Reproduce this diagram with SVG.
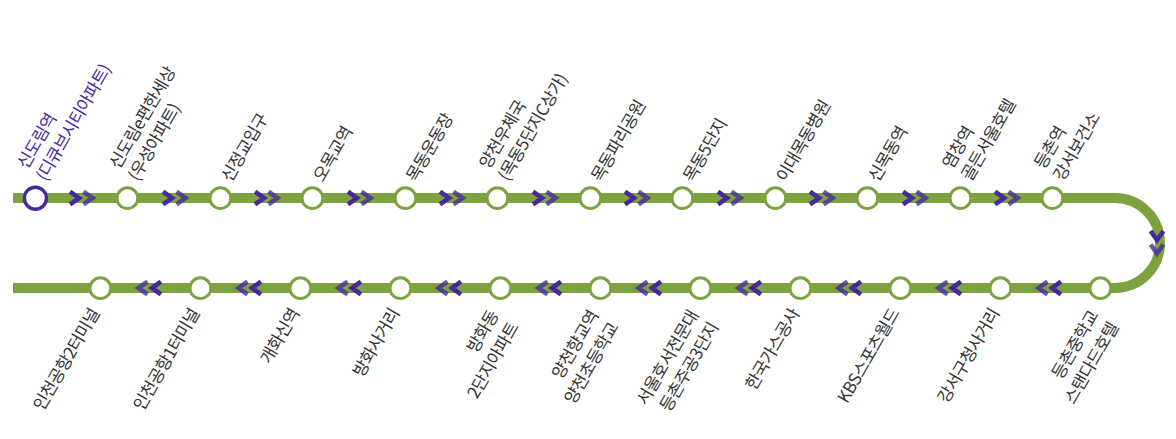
<svg xmlns="http://www.w3.org/2000/svg" width="1176" height="439" viewBox="0 0 1176 439">
<style>
text{font-family:"Noto Sans CJK KR","Noto Sans",sans-serif;font-size:17px;fill:#333;letter-spacing:-0.6px}
.cur{fill:#47299b}
.e{text-anchor:end}
circle{transform:translate(.4px,.2px)}
.st{fill:#fff;stroke:#7ca340;stroke-width:3}
.cs{fill:#fff;stroke:#47299b;stroke-width:3.4}
.c1,.c2{fill:none;stroke:#47299b;stroke-width:4.6}
.c2{opacity:.8}
</style>
<defs>
<g id="ch"><path class="c1" d="M-12,-6.4L-3,0L-12,6.4"/><path class="c2" d="M1.5,-6.4L10.5,0L1.5,6.4"/></g>
</defs>
<g id="connectors">
<path d="M13,198H1115A45,45 0 0 1 1115,288H13" fill="none" stroke="#7ca340" stroke-width="10"/>
<use href="#ch" x="82" y="198"/><use href="#ch" x="175" y="198"/><use href="#ch" x="267" y="198"/><use href="#ch" x="360" y="198"/><use href="#ch" x="452" y="198"/><use href="#ch" x="545" y="198"/><use href="#ch" x="637" y="198"/><use href="#ch" x="730" y="198"/><use href="#ch" x="822" y="198"/><use href="#ch" x="915" y="198"/><use href="#ch" x="1007" y="198"/>
<use href="#ch" transform="translate(1157,243) rotate(90)"/>
<use href="#ch" transform="translate(1049,288) rotate(180)"/><use href="#ch" transform="translate(949,288) rotate(180)"/><use href="#ch" transform="translate(849,288) rotate(180)"/><use href="#ch" transform="translate(749,288) rotate(180)"/><use href="#ch" transform="translate(649,288) rotate(180)"/><use href="#ch" transform="translate(549,288) rotate(180)"/><use href="#ch" transform="translate(449,288) rotate(180)"/><use href="#ch" transform="translate(349,288) rotate(180)"/><use href="#ch" transform="translate(249,288) rotate(180)"/><use href="#ch" transform="translate(149,288) rotate(180)"/>
</g>
<g id="s01"><circle class="cs" cx="35" cy="198" r="11"/><text class="cur" transform="translate(27,170) rotate(-60)">신도림역</text><text class="cur" transform="translate(46,182) rotate(-60)">(디큐브시티아파트)</text></g>
<g id="s02"><circle class="st" cx="127" cy="198" r="10.4"/><text transform="translate(119,170) rotate(-60)">신도림e편한세상</text><text transform="translate(138,182) rotate(-60)">(우성아파트)</text></g>
<g id="s03"><circle class="st" cx="220" cy="198" r="10.4"/><text transform="translate(231,183) rotate(-60)">신정교입구</text></g>
<g id="s04"><circle class="st" cx="312" cy="198" r="10.4"/><text transform="translate(323,183) rotate(-60)">오목교역</text></g>
<g id="s05"><circle class="st" cx="405" cy="198" r="10.4"/><text transform="translate(416,183) rotate(-60)">목동운동장</text></g>
<g id="s06"><circle class="st" cx="497" cy="198" r="10.4"/><text transform="translate(489,170) rotate(-60)">양천우체국</text><text transform="translate(508,182) rotate(-60)">(목동5단지C상가)</text></g>
<g id="s07"><circle class="st" cx="590" cy="198" r="10.4"/><text transform="translate(601,183) rotate(-60)">목동파리공원</text></g>
<g id="s08"><circle class="st" cx="682" cy="198" r="10.4"/><text transform="translate(693,183) rotate(-60)">목동5단지</text></g>
<g id="s09"><circle class="st" cx="775" cy="198" r="10.4"/><text transform="translate(786,183) rotate(-60)">이대목동병원</text></g>
<g id="s10"><circle class="st" cx="867" cy="198" r="10.4"/><text transform="translate(878,183) rotate(-60)">신목동역</text></g>
<g id="s11"><circle class="st" cx="960" cy="198" r="10.4"/><text transform="translate(952,170) rotate(-60)">염창역</text><text transform="translate(971,182) rotate(-60)">골든서울호텔</text></g>
<g id="s12"><circle class="st" cx="1052" cy="198" r="10.4"/><text transform="translate(1044,170) rotate(-60)">등촌역</text><text transform="translate(1063,182) rotate(-60)">강서보건소</text></g>
<g id="s13"><circle class="st" cx="1100" cy="288" r="10.4"/><text class="e" transform="translate(1099,315) rotate(-60)">등촌중학교</text><text class="e" transform="translate(1119,327) rotate(-60)">스탠다드호텔</text></g>
<g id="s14"><circle class="st" cx="1000" cy="288" r="10.4"/><text class="e" transform="translate(1000,313) rotate(-60)">강서구청사거리</text></g>
<g id="s15"><circle class="st" cx="900" cy="288" r="10.4"/><text class="e" transform="translate(900,313) rotate(-60)">KBS스포츠월드</text></g>
<g id="s16"><circle class="st" cx="800" cy="288" r="10.4"/><text class="e" transform="translate(800,313) rotate(-60)">한국가스공사</text></g>
<g id="s17"><circle class="st" cx="700" cy="288" r="10.4"/><text class="e" transform="translate(699,315) rotate(-60)">서울호서전문대</text><text class="e" transform="translate(719,327) rotate(-60)">등촌주공3단지</text></g>
<g id="s18"><circle class="st" cx="600" cy="288" r="10.4"/><text class="e" transform="translate(599,315) rotate(-60)">양천향교역</text><text class="e" transform="translate(619,327) rotate(-60)">양천초등학교</text></g>
<g id="s19"><circle class="st" cx="500" cy="288" r="10.4"/><text class="e" transform="translate(499,315) rotate(-60)">방화동</text><text class="e" transform="translate(519,327) rotate(-60)">2단지아파트</text></g>
<g id="s20"><circle class="st" cx="400" cy="288" r="10.4"/><text class="e" transform="translate(400,313) rotate(-60)">방화사거리</text></g>
<g id="s21"><circle class="st" cx="300" cy="288" r="10.4"/><text class="e" transform="translate(300,313) rotate(-60)">개화신역</text></g>
<g id="s22"><circle class="st" cx="200" cy="288" r="10.4"/><text class="e" transform="translate(200,313) rotate(-60)">인천공항1터미널</text></g>
<g id="s23"><circle class="st" cx="100" cy="288" r="10.4"/><text class="e" transform="translate(100,313) rotate(-60)">인천공항2터미널</text></g>
</svg>
